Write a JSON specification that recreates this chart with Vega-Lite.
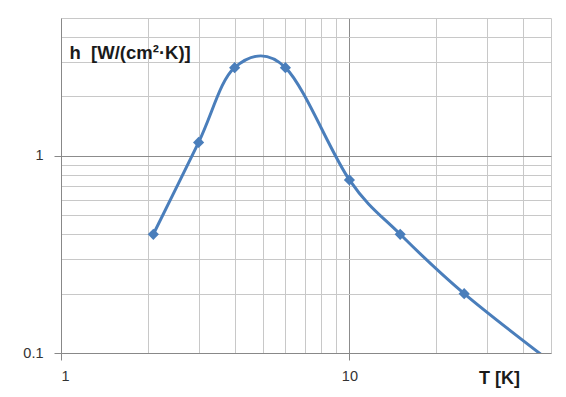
{
  "$schema": "https://vega.github.io/schema/vega-lite/v6.json",
  "width": 490,
  "height": 335,
  "autosize": "none",
  "padding": {"left": 61, "top": 18, "right": 15, "bottom": 44},
  "background": "white",
  "config": {"view": {"stroke": null}},
  "data": {
    "values": [
      {"T": 2.09, "h": 0.40, "marker": true},
      {"T": 3.0, "h": 1.17, "marker": true},
      {"T": 4.0, "h": 2.8, "marker": true},
      {"T": 6.0, "h": 2.8, "marker": true},
      {"T": 10.0, "h": 0.755, "marker": true},
      {"T": 15.0, "h": 0.40, "marker": true},
      {"T": 25.0, "h": 0.20, "marker": true},
      {"T": 50.0, "h": 0.09, "marker": false}
    ]
  },
  "encoding": {
    "x": {
      "field": "T",
      "type": "quantitative",
      "scale": {"type": "log", "domain": [1, 50], "nice": false},
      "axis": {
        "values": [1, 2, 3, 4, 5, 6, 7, 8, 9, 10, 20, 30, 40, 50],
        "labelExpr": "datum.value == 1 || datum.value == 10 ? datum.value : ''",
        "labelFont": "Liberation Sans",
        "labelFontSize": 14.5,
        "labelColor": "#333333",
        "labelPadding": 9,
        "tickSize": 7,
        "tickColor": "#888888",
        "tickOpacity": {"condition": {"test": "datum.value == 1 || datum.value == 10", "value": 1}, "value": 0},
        "domainColor": "#888888",
        "grid": true,
        "gridColor": {"condition": {"test": "datum.value == 10", "value": "#8c8c8c"}, "value": "#c8c8c8"},
        "gridWidth": 1,
        "title": "T [K]",
        "titleFont": "Liberation Sans",
        "titleFontSize": 18,
        "titleFontWeight": "bold",
        "titleColor": "#1a1a1a",
        "titleAlign": "center",
        "titleBaseline": "alphabetic",
        "titleX": 438,
        "titleY": 30
      }
    },
    "y": {
      "field": "h",
      "type": "quantitative",
      "scale": {"type": "log", "domain": [0.1, 5], "nice": false},
      "axis": {
        "values": [0.1, 0.2, 0.3, 0.4, 0.5, 0.6, 0.7, 0.8, 0.9, 1, 2, 3, 4, 5],
        "labelExpr": "datum.value == 1 || datum.value == 0.1 ? datum.value : ''",
        "labelFont": "Liberation Sans",
        "labelFontSize": 14.5,
        "labelColor": "#333333",
        "labelPadding": 11,
        "tickSize": 7,
        "tickColor": "#888888",
        "tickOpacity": {"condition": {"test": "datum.value == 1 || datum.value == 0.1", "value": 1}, "value": 0},
        "domainColor": "#888888",
        "grid": true,
        "gridColor": {"condition": {"test": "datum.value == 1", "value": "#8c8c8c"}, "value": "#c8c8c8"},
        "gridWidth": 1,
        "title": "h\u00a0\u00a0[W/(cm²·K)]",
        "titleFont": "Liberation Sans",
        "titleFontSize": 18.5,
        "titleFontWeight": "bold",
        "titleColor": "#1a1a1a",
        "titleAngle": 0,
        "titleAlign": "left",
        "titleBaseline": "alphabetic",
        "titleX": 8,
        "titleY": 40
      }
    }
  },
  "layer": [
    {
      "mark": {"type": "line", "interpolate": "cardinal", "color": "#4a7ebb", "strokeWidth": 3, "clip": true}
    },
    {
      "transform": [{"filter": "datum.marker"}],
      "mark": {"type": "point", "shape": "diamond", "filled": true, "size": 125, "color": "#4a7ebb", "opacity": 1}
    }
  ]
}
